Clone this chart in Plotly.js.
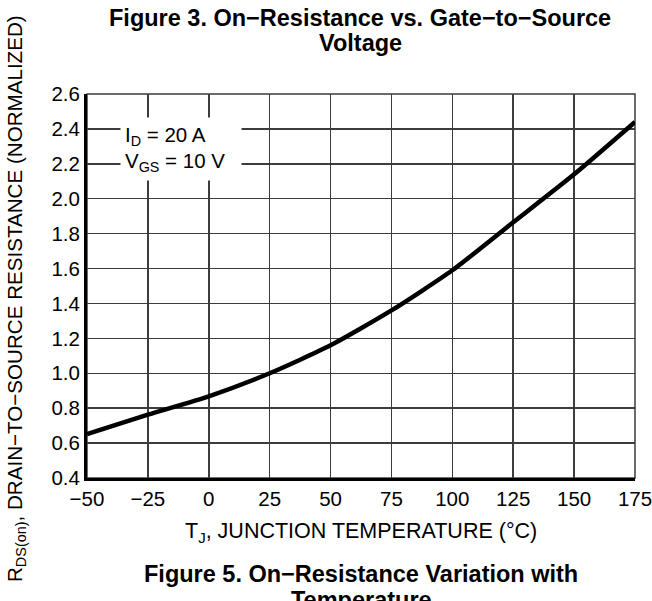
<!DOCTYPE html>
<html>
<head>
<meta charset="utf-8">
<script src="https://cdn.plot.ly/plotly-3.0.1.min.js"></script>
<style>
html,body{margin:0;padding:0;background:#fff;}
#chart{width:652px;height:601px;}
</style>
</head>
<body>
<div id="chart"></div>
<script>
// Data
const temperatureC = [-50, -25, 0, 25, 50, 75, 100, 125, 150, 175];
const rdsNormalized = [0.652, 0.763, 0.868, 1.0, 1.16, 1.36, 1.59, 1.865, 2.14, 2.44];

const xTickVals = [-50, -25, 0, 25, 50, 75, 100, 125, 150, 175];
const xTickText = ['\u221250', '\u221225', '0', '25', '50', '75', '100', '125', '150', '175'];
const yTickVals = [0.4, 0.6, 0.8, 1.0, 1.2, 1.4, 1.6, 1.8, 2.0, 2.2, 2.4, 2.6];
const yTickText = ['0.4', '0.6', '0.8', '1.0', '1.2', '1.4', '1.6', '1.8', '2.0', '2.2', '2.4', '2.6'];

const titleLine1 = 'Figure 3. On\u2212Resistance vs. Gate\u2212to\u2212Source';
const titleLine2 = 'Voltage';
const xTitle = 'T<sub>J</sub>, JUNCTION TEMPERATURE (\u00B0C)';
const yTitle = 'R<sub>DS(on)</sub>, DRAIN\u2212TO\u2212SOURCE RESISTANCE (NORMALIZED)';
const conditionText = 'I<sub>D</sub> = 20 A<br>V<sub>GS</sub> = 10 V';
const captionLine1 = 'Figure 5. On\u2212Resistance Variation with';
const captionLine2 = 'Temperature';

const FONT = 'Liberation Sans, Arial, Helvetica, sans-serif';

const trace = {
  x: temperatureC,
  y: rdsNormalized,
  type: 'scatter',
  mode: 'lines',
  line: {color: '#000', width: 4.5, shape: 'spline', smoothing: 0.6},
  hoverinfo: 'skip',
  showlegend: false
};

// pixel helpers for paper coordinates (plot area: x 87..635, y 94..478)
const L = 87, R = 17, T = 94, B = 123, W = 652, H = 601;
const pw = W - L - R, ph = H - T - B;
const px = v => (v - L) / pw;
const py = v => (H - B - v) / ph;

const layout = {
  width: W,
  height: H,
  margin: {l: L, r: R, t: T, b: B, pad: 0},
  paper_bgcolor: '#fff',
  plot_bgcolor: '#fff',
  font: {family: FONT, size: 20, color: '#000'},
  showlegend: false,
  xaxis: {
    range: [-50, 175],
    tickmode: 'array',
    tickvals: xTickVals,
    ticktext: xTickText,
    showgrid: true,
    gridcolor: '#3c3c3c',
    gridwidth: 1.5,
    zeroline: false,
    showline: true,
    linecolor: '#000',
    linewidth: 3,
    ticks: '',
    ticklabeloverflow: 'allow',
    tickfont: {family: FONT, size: 20.5, color: '#000'},
    fixedrange: true
  },
  yaxis: {
    range: [0.4, 2.6],
    tickmode: 'array',
    tickvals: yTickVals,
    ticktext: yTickText,
    showgrid: true,
    gridcolor: '#3c3c3c',
    gridwidth: 1.5,
    zeroline: false,
    showline: true,
    linecolor: '#000',
    linewidth: 3,
    ticks: '',
    ticklabeloverflow: 'allow',
    tickfont: {family: FONT, size: 20.5, color: '#000'},
    fixedrange: true
  },
  shapes: [
    {type: 'rect', xref: 'paper', yref: 'paper', x0: 0, x1: 1, y0: 0, y1: 1,
     line: {color: '#3c3c3c', width: 1.5}, layer: 'below'}
  ],
  annotations: [
    {text: titleLine1, xref: 'paper', yref: 'paper', x: px(360), y: py(18),
     xanchor: 'center', yanchor: 'middle', showarrow: false,
     font: {family: FONT, size: 23.5, color: '#000', weight: 'bold'}},
    {text: titleLine2, xref: 'paper', yref: 'paper', x: px(360), y: py(43),
     xanchor: 'center', yanchor: 'middle', showarrow: false,
     font: {family: FONT, size: 23.5, color: '#000', weight: 'bold'}},
    {text: conditionText, xref: 'paper', yref: 'paper', x: px(181), y: py(149),
     xanchor: 'center', yanchor: 'middle', showarrow: false, align: 'left',
     bgcolor: '#fff', borderpad: 4, width: 112, height: 54,
     font: {family: FONT, size: 20.5, color: '#000'}},
    {text: xTitle, xref: 'paper', yref: 'paper', x: px(361), y: py(532),
     xanchor: 'center', yanchor: 'middle', showarrow: false,
     font: {family: FONT, size: 21.5, color: '#000'}},
    {text: yTitle, xref: 'paper', yref: 'paper', x: px(16), y: py(299),
     xanchor: 'center', yanchor: 'middle', showarrow: false, textangle: -90,
     font: {family: FONT, size: 20.6, color: '#000'}},
    {text: captionLine1, xref: 'paper', yref: 'paper', x: px(361), y: py(574),
     xanchor: 'center', yanchor: 'middle', showarrow: false,
     font: {family: FONT, size: 23.5, color: '#000', weight: 'bold'}},
    {text: captionLine2, xref: 'paper', yref: 'paper', x: px(361), y: py(600),
     xanchor: 'center', yanchor: 'middle', showarrow: false,
     font: {family: FONT, size: 23.5, color: '#000', weight: 'bold'}}
  ]
};

Plotly.newPlot('chart', [trace], layout, {staticPlot: true, displayModeBar: false});
</script>
</body>
</html>
